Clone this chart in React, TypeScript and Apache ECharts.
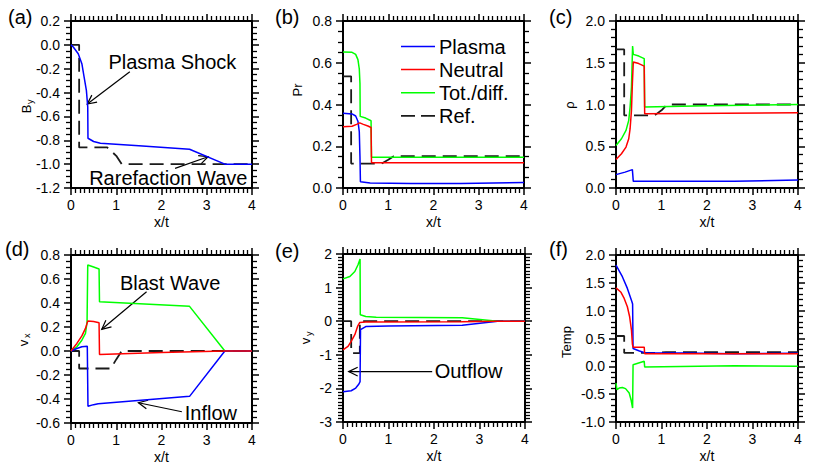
import React, { useEffect, useRef } from "react";
import * as echarts from "echarts";

const FONT = "'Liberation Sans', Arial, Helvetica, sans-serif";

// ---------- x axis (shared) ----------
const xTickValues = [0, 1, 2, 3, 4];

// ---------- (a) B_y ----------
const byPlasma = [[0, 0], [0.05, -0.018], [0.16, -0.074], [0.24, -0.158], [0.29, -0.27], [0.34, -0.382], [0.37, -0.52], [0.375, -0.783], [0.5, -0.81], [0.65, -0.825], [1.5, -0.845], [2.62, -0.875], [3.4, -1.0], [4, -1.0]];
const byRef = [[0, 0], [0.18, 0], [0.18, -0.86], [0.8, -0.86], [1.0, -0.93], [1.12, -1.0], [4, -1.0]];

// ---------- (b) Pr ----------
const prPlasma = [[0, 0.358], [0.2, 0.355], [0.28, 0.345], [0.33, 0.32], [0.36, 0.27], [0.375, 0.15], [0.385, 0.03], [0.6, 0.024], [1.5, 0.022], [2.6, 0.021], [4, 0.026]];
const prNeutral = [[0, 0.293], [0.2, 0.296], [0.3, 0.305], [0.37, 0.312], [0.45, 0.305], [0.55, 0.297], [0.62, 0.29], [0.63, 0.121], [4, 0.121]];
const prTotal = [[0, 0.652], [0.2, 0.65], [0.28, 0.64], [0.33, 0.615], [0.36, 0.57], [0.375, 0.5], [0.38, 0.343], [0.5, 0.335], [0.62, 0.322], [0.63, 0.147], [4, 0.147]];
const prRef = [[0, 0.535], [0.18, 0.535], [0.18, 0.117], [0.85, 0.117], [1.0, 0.135], [1.12, 0.152], [4, 0.152]];

// ---------- (c) rho ----------
const rhoPlasma = [[0, 0.16], [0.2, 0.19], [0.36, 0.22], [0.38, 0.08], [1.5, 0.08], [2.6, 0.082], [4, 0.095]];
const rhoNeutral = [[0, 0.34], [0.12, 0.41], [0.22, 0.49], [0.28, 0.59], [0.31, 0.71], [0.34, 0.93], [0.36, 1.25], [0.38, 1.51], [0.5, 1.49], [0.62, 1.46], [0.63, 0.89], [4, 0.9]];
const rhoTotal = [[0, 0.51], [0.12, 0.59], [0.22, 0.69], [0.28, 0.81], [0.31, 0.97], [0.34, 1.21], [0.365, 1.7], [0.38, 1.6], [0.5, 1.58], [0.62, 1.55], [0.63, 0.97], [2, 0.985], [4, 1.0]];
const rhoRef = [[0, 1.66], [0.18, 1.66], [0.18, 0.87], [0.85, 0.87], [1.0, 0.93], [1.12, 1.0], [4, 1.0]];

// ---------- (d) v_x ----------
const vxPlasma = [[0, 0], [0.13, 0.021], [0.24, 0.035], [0.36, 0.04], [0.375, -0.46], [0.5, -0.447], [0.6, -0.44], [1.75, -0.405], [2.62, -0.378], [3.4, 0], [4, 0]];
const vxNeutral = [[0, 0], [0.13, 0.063], [0.24, 0.126], [0.32, 0.188], [0.37, 0.249], [0.5, 0.245], [0.62, 0.235], [0.63, -0.029], [2, -0.013], [3.4, 0], [4, 0]];
const vxTotal = [[0, 0], [0.13, 0.035], [0.24, 0.09], [0.32, 0.146], [0.355, 0.243], [0.37, 0.717], [0.5, 0.7], [0.62, 0.683], [0.63, 0.41], [2.62, 0.372], [3.4, 0], [4, 0]];
const vxRef = [[0, 0], [0.18, 0], [0.18, -0.146], [0.88, -0.146], [1.0, -0.07], [1.12, 0], [4, 0]];

// ---------- (e) v_y ----------
const vyPlasma = [[0, -2.1], [0.18, -2.07], [0.28, -1.99], [0.35, -1.87], [0.375, -1.8], [0.385, -0.25], [0.5, -0.16], [1.0, -0.14], [2.62, -0.12], [3.4, 0], [4, 0]];
const vyNeutral = [[0, -0.85], [0.11, -0.75], [0.18, -0.6], [0.26, -0.4], [0.32, -0.155], [0.37, -0.036], [0.5, -0.025], [2.6, -0.015], [3.4, 0], [4, 0]];
const vyTotal = [[0, 1.26], [0.15, 1.33], [0.26, 1.48], [0.33, 1.68], [0.375, 1.85], [0.38, 0.19], [0.5, 0.14], [0.73, 0.12], [2.62, 0.1], [3.4, 0], [4, 0]];
const vyRef = [[0, 0], [0.18, 0], [0.18, -0.95], [0.37, -0.95], [0.37, 0], [4, 0]];

// ---------- (f) Temp ----------
const tempPlasma = [[0, 1.82], [0.14, 1.61], [0.25, 1.4], [0.35, 1.16], [0.365, 1.12], [0.375, 0.32], [0.5, 0.28], [0.63, 0.245], [1.5, 0.24], [2.6, 0.225], [4, 0.235]];
const tempNeutral = [[0, 1.41], [0.11, 1.33], [0.18, 1.22], [0.25, 1.07], [0.3, 0.89], [0.34, 0.65], [0.36, 0.4], [0.375, 0.345], [0.62, 0.345], [0.63, 0.225], [4, 0.225]];
const tempTotal = [[0, -0.3], [0.02, -0.42], [0.07, -0.39], [0.14, -0.38], [0.21, -0.4], [0.29, -0.48], [0.33, -0.6], [0.365, -0.75], [0.375, 0.03], [0.62, 0.09], [0.63, -0.01], [2.6, 0.01], [4, 0]];
const tempRef = [[0, 0.545], [0.18, 0.545], [0.18, 0.24], [0.88, 0.24], [1.0, 0.25], [1.1, 0.255], [4, 0.255]];

// ---------- y-axis ranges ----------
const yMins = [-1.2, 0, 0, -0.6, -3, -1];
const yMaxs = [0.2, 0.8, 2, 0.8, 2, 2];
const yIntervals = [0.2, 0.2, 0.5, 0.2, 1, 0.5];
const yMinorSplits = [4, 4, 5, 4, 10, 5];
const yDigits = [1, 1, 1, 1, 0, 1];

const legendNames = ["Plasma", "Neutral", "Tot./diff.", "Ref."];
const panelLetters = ["(a)", "(b)", "(c)", "(d)", "(e)", "(f)"];
const yNames = [["B", "y"], ["Pr", ""], ["ρ", ""], ["v", "x"], ["v", "y"], ["Temp", ""]];

const panelData = [
  { ref: byRef, total: null, plasma: byPlasma, neutral: null },
  { ref: prRef, total: prTotal, plasma: prPlasma, neutral: prNeutral },
  { ref: rhoRef, total: rhoTotal, plasma: rhoPlasma, neutral: rhoNeutral },
  { ref: vxRef, total: vxTotal, plasma: vxPlasma, neutral: vxNeutral },
  { ref: vyRef, total: vyTotal, plasma: vyPlasma, neutral: vyNeutral },
  { ref: tempRef, total: tempTotal, plasma: tempPlasma, neutral: tempNeutral },
];

const annotations = [
  { panel: 0, text: "Plasma Shock", at: [2.24, -0.14], from: [1.3, -0.225], to: [0.36, -0.496] },
  { panel: 0, text: "Rarefaction Wave", at: [2.15, -1.116], from: [2.3, -1.035], to: [3.03, -0.938] },
  { panel: 3, text: "Blast Wave", at: [2.19, 0.567], from: [1.67, 0.494], to: [0.68, 0.181] },
  { panel: 3, text: "Inflow", at: [3.09, -0.5125], from: [2.45, -0.506], to: [1.49, -0.431] },
  { panel: 4, text: "Outflow", at: [2.76, -1.48], from: [1.96, -1.5], to: [0.125, -1.5] },
];

// ---------- layout / style ----------
const GRIDS = [
  { left: 71, top: 21, width: 181, height: 167 },
  { left: 343, top: 21, width: 181, height: 167 },
  { left: 616, top: 21, width: 182, height: 167 },
  { left: 71, top: 255, width: 181, height: 168 },
  { left: 343, top: 254, width: 182, height: 168 },
  { left: 616, top: 255, width: 182, height: 167 },
];
const LETTER_POS = [[8, 16.5], [275, 16.5], [549, 16.5], [5, 249], [275, 251], [549, 249]];
const YNAME_POS = [[26, 107], [297, 90], [569, 105], [23, 341], [305, 339], [566, 342]];
const COLORS: Record<string, string> = { plasma: "#0000ff", neutral: "#ff0000", total: "#00ff00", ref: "#1a1a1a" };
const DASH = [14, 7];

function fmt(v: number, d: number) {
  const x = Math.abs(v) < 1e-9 ? 0 : v;
  return x.toFixed(d);
}

export default function App() {
  const ref = useRef<HTMLDivElement>(null);
  useEffect(() => {
    if (!ref.current) return;
    const chart = echarts.init(ref.current, undefined, { renderer: "svg" });
    const xAxes: any[] = [];
    const yAxes: any[] = [];
    const series: any[] = [];
    GRIDS.forEach((_, i) => {
      const base = (min: number, max: number, interval: number, minor: number) => ({
        type: "value", gridIndex: i, min, max, interval,
        axisLine: { show: true, onZero: false, lineStyle: { color: "#000", width: 2 } },
        axisTick: { show: true, length: 7, lineStyle: { color: "#000", width: 1.5 } },
        minorTick: { show: true, splitNumber: minor, length: 5, lineStyle: { color: "#000", width: 1.3 } },
        splitLine: { show: false },
      });
      xAxes.push({
        ...base(xTickValues[0], xTickValues[xTickValues.length - 1], 1, 10), position: "bottom",
        axisLabel: { show: true, margin: 10, fontSize: 14, color: "#000", fontFamily: FONT, formatter: (v: number) => fmt(v, 0) },
        name: "x/t", nameLocation: "middle", nameGap: 27,
        nameTextStyle: { fontSize: 14, color: "#000", fontFamily: FONT },
      });
      xAxes.push({ ...base(xTickValues[0], xTickValues[xTickValues.length - 1], 1, 10), position: "top", axisLabel: { show: false } });
      yAxes.push({
        ...base(yMins[i], yMaxs[i], yIntervals[i], yMinorSplits[i]), position: "left",
        axisLabel: { show: true, margin: 11, fontSize: 14, color: "#000", fontFamily: FONT, formatter: (v: number) => fmt(v, yDigits[i]) },
      });
      yAxes.push({ ...base(yMins[i], yMaxs[i], yIntervals[i], yMinorSplits[i]), position: "right", axisLabel: { show: false } });

      const pd: any = panelData[i];
      const add = (key: string, name: string) => {
        const data = pd[key];
        if (!data) return;
        series.push({
          type: "line", name, xAxisIndex: 2 * i, yAxisIndex: 2 * i, data,
          showSymbol: false, symbol: "none",
          lineStyle: { color: COLORS[key], width: key === "ref" ? 1.8 : 1.5, type: key === "ref" ? DASH : "solid" },
          itemStyle: { color: COLORS[key] },
        });
      };
      add("ref", "Ref.");
      add("total", "Tot./diff.");
      add("plasma", "Plasma");
      add("neutral", "Neutral");
    });

    chart.setOption({
      animation: false,
      grid: GRIDS,
      xAxis: xAxes,
      yAxis: yAxes,
      series,
    });

    const graphic: any[] = [];
    const txt = (text: string, x: number, y: number, size: number, align = "left", valign = "middle") => ({
      type: "text", x, y, silent: true,
      style: { text, fontSize: size, fontFamily: FONT, fill: "#000", align, verticalAlign: valign },
    });
    panelLetters.forEach((l, i) => graphic.push(txt(l, LETTER_POS[i][0], LETTER_POS[i][1], 20)));
    yNames.forEach((n, i) => {
      const [cx, cy] = YNAME_POS[i];
      const children: any[] = [];
      if (n[1]) {
        children.push({ type: "text", x: -2, y: 0, style: { text: n[0], fontSize: 13, fontFamily: FONT, fill: "#000", align: "center", verticalAlign: "middle" } });
        children.push({ type: "text", x: 3, y: 4, style: { text: n[1], fontSize: 9, fontFamily: FONT, fill: "#000", align: "left", verticalAlign: "middle" } });
      } else {
        children.push({ type: "text", x: 0, y: 0, style: { text: n[0], fontSize: 13, fontFamily: FONT, fill: "#000", align: "center", verticalAlign: "middle" } });
      }
      graphic.push({ type: "group", x: cx, y: cy, rotation: Math.PI / 2, silent: true, children });
    });
    const legendColors = [COLORS.plasma, COLORS.neutral, COLORS.total, COLORS.ref];
    legendNames.forEach((name, k) => {
      const y = 46.5 + k * 23.1;
      graphic.push({
        type: "line", silent: true, shape: { x1: 401, y1: y, x2: 435, y2: y },
        style: { stroke: legendColors[k], lineWidth: k === 3 ? 1.8 : 1.5, lineDash: k === 3 ? [14, 6] : null },
      });
      graphic.push(txt(name, 439, y, 20));
    });
    annotations.forEach((a) => {
      const finder = { xAxisIndex: 2 * a.panel, yAxisIndex: 2 * a.panel };
      const pt = chart.convertToPixel(finder as any, a.at) as number[];
      const p0 = chart.convertToPixel(finder as any, a.from) as number[];
      const p1 = chart.convertToPixel(finder as any, a.to) as number[];
      graphic.push(txt(a.text, pt[0], pt[1], 20, "center"));
      graphic.push({ type: "line", silent: true, shape: { x1: p0[0], y1: p0[1], x2: p1[0], y2: p1[1] }, style: { stroke: "#000", lineWidth: 1.2 } });
      const phi = Math.atan2(p0[1] - p1[1], p0[0] - p1[0]);
      const L = 10, th = 0.45;
      graphic.push({
        type: "polyline", silent: true,
        shape: { points: [[p1[0] + L * Math.cos(phi + th), p1[1] + L * Math.sin(phi + th)], [p1[0], p1[1]], [p1[0] + L * Math.cos(phi - th), p1[1] + L * Math.sin(phi - th)]] },
        style: { stroke: "#000", lineWidth: 1.2, fill: "none" },
      });
    });
    chart.setOption({ graphic });

    return () => chart.dispose();
  }, []);
  return <div ref={ref} style={{ position: "absolute", left: 0, top: 0, width: 817, height: 467, background: "#fff" }} />;
}
